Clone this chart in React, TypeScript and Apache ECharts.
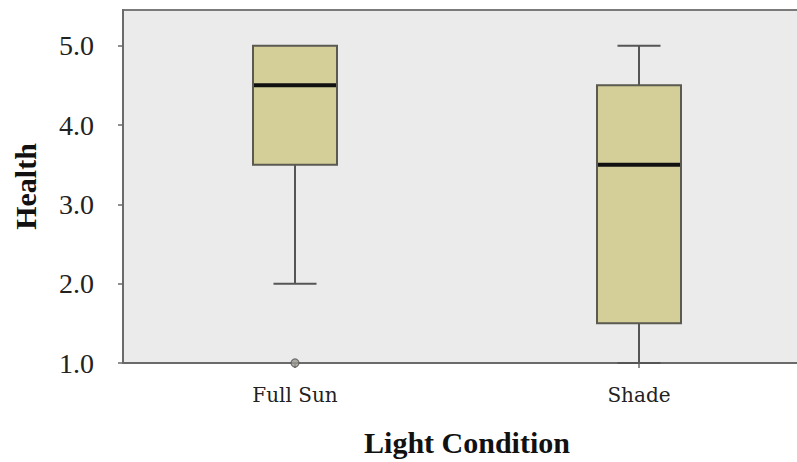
import React, { useEffect, useRef } from "react";
import * as echarts from "echarts";

const categories = ["Full Sun", "Shade"];
const whiskerLow = [2.0, 1.0];
const q1 = [3.5, 1.5];
const median = [4.5, 3.5];
const q3 = [5.0, 4.5];
const whiskerHigh = [5.0, 5.0];
const outliers: [number, number][] = [[0, 1.0]];
const yTicks = [1, 2, 3, 4, 5];

const FONT = "'Liberation Serif', 'Times New Roman', serif";
const CAT_FONT = "'DejaVu Serif', serif";

export default function App() {
  const ref = useRef<HTMLDivElement>(null);
  useEffect(() => {
    if (!ref.current) return;
    const chart = echarts.init(ref.current, undefined, { renderer: "svg" });
    const boxData = categories.map((_, i) => [i, whiskerLow[i], q1[i], median[i], q3[i], whiskerHigh[i]]);
    chart.setOption({
      animation: false,
      backgroundColor: "#ffffff",
      grid: {
        left: 123,
        top: 10,
        right: 19,
        bottom: 99,
        show: true,
        backgroundColor: "#EBEBEB",
        borderColor: "#7a7a7a",
        borderWidth: 2,
      },
      xAxis: {
        type: "category",
        data: categories,
        boundaryGap: true,
        name: "Light Condition",
        nameLocation: "middle",
        nameGap: 64,
        nameTextStyle: { fontFamily: FONT, fontSize: 30, fontWeight: "bold", color: "#111" },
        axisLine: { show: true, lineStyle: { color: "#6a6a6a", width: 2 } },
        axisTick: { show: true, alignWithLabel: true, length: 5, lineStyle: { color: "#6a6a6a", width: 1.5 } },
        axisLabel: { fontFamily: CAT_FONT, fontSize: 20, color: "#222", margin: 22 },
        splitLine: { show: false },
      },
      yAxis: {
        type: "value",
        min: 1,
        max: 5.45,
        interval: 1,
        name: "Health",
        nameLocation: "middle",
        nameGap: 83,
        nameRotate: 90,
        nameTextStyle: { fontFamily: FONT, fontSize: 30, fontWeight: "bold", color: "#111" },
        axisLine: { show: true, lineStyle: { color: "#6a6a6a", width: 2 } },
        axisTick: { show: true, length: 5, customValues: yTicks, lineStyle: { color: "#6a6a6a", width: 1.5 } },
        axisLabel: {
          customValues: yTicks,
          fontFamily: FONT,
          fontSize: 28,
          color: "#222",
          margin: 29,
          formatter: (v: number) => v.toFixed(1),
        },
        splitLine: { show: false },
      },
      series: [
        {
          type: "custom",
          data: boxData,
          encode: { x: 0, y: [1, 2, 3, 4, 5] },
          renderItem: (params: any, api: any) => {
            const i = api.value(0);
            const pLow = api.coord([i, api.value(1)]);
            const pQ1 = api.coord([i, api.value(2)]);
            const pMed = api.coord([i, api.value(3)]);
            const pQ3 = api.coord([i, api.value(4)]);
            const pHigh = api.coord([i, api.value(5)]);
            const cx = pMed[0];
            const boxW = 84;
            const capW = 43;
            const lineStyle = { stroke: "#555555", lineWidth: 2 };
            const children: any[] = [];
            if (pLow[1] > pQ1[1] + 0.5) {
              children.push({ type: "line", shape: { x1: cx, y1: pQ1[1], x2: cx, y2: pLow[1] }, style: lineStyle });
              children.push({ type: "line", shape: { x1: cx - capW / 2, y1: pLow[1], x2: cx + capW / 2, y2: pLow[1] }, style: lineStyle });
            }
            if (pHigh[1] < pQ3[1] - 0.5) {
              children.push({ type: "line", shape: { x1: cx, y1: pQ3[1], x2: cx, y2: pHigh[1] }, style: lineStyle });
              children.push({ type: "line", shape: { x1: cx - capW / 2, y1: pHigh[1], x2: cx + capW / 2, y2: pHigh[1] }, style: lineStyle });
            }
            children.push({
              type: "rect",
              shape: { x: cx - boxW / 2, y: pQ3[1], width: boxW, height: pQ1[1] - pQ3[1] },
              style: { fill: "#D4CF98", stroke: "#5a5a50", lineWidth: 2 },
            });
            children.push({
              type: "line",
              shape: { x1: cx - boxW / 2 + 1, y1: pMed[1], x2: cx + boxW / 2 - 1, y2: pMed[1] },
              style: { stroke: "#111111", lineWidth: 4 },
            });
            return { type: "group", children };
          },
          z: 3,
        },
        {
          type: "scatter",
          data: outliers,
          symbol: "circle",
          symbolSize: 8,
          itemStyle: { color: "#9a9a90", borderColor: "#555", borderWidth: 1.2 },
          z: 4,
        },
      ],
    });
    return () => chart.dispose();
  }, []);
  return (
    <div style={{ position: "fixed", left: 0, top: 0, width: 797, height: 462, overflow: "hidden", background: "#fff" }}>
      <div ref={ref} style={{ width: 830, height: 462 }} />
    </div>
  );
}
